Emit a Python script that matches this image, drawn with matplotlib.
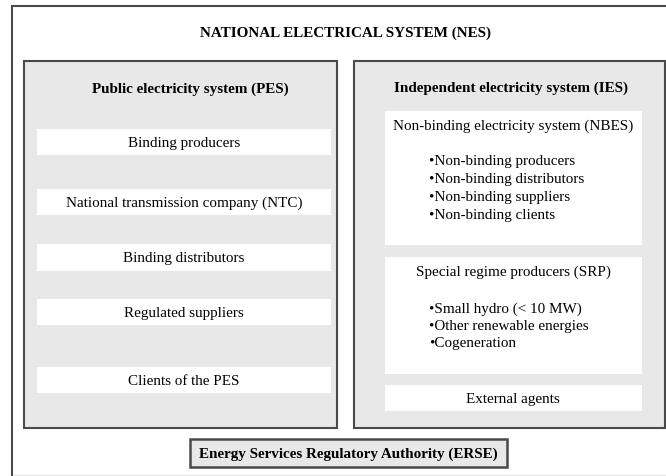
import matplotlib
matplotlib.use("Agg")
import matplotlib.pyplot as plt
from matplotlib.patches import Rectangle

plt.rcParams['font.family'] = ['Liberation Serif', 'DejaVu Serif']

title = "NATIONAL ELECTRICAL SYSTEM (NES)"
pes_title = "Public electricity system (PES)"
pes_items = ["Binding producers", "National transmission company (NTC)",
             "Binding distributors", "Regulated suppliers", "Clients of the PES"]
ies_title = "Independent electricity system (IES)"
nbes_title = "Non-binding electricity system (NBES)"
nbes_items = ["Non-binding producers", "Non-binding distributors",
              "Non-binding suppliers", "Non-binding clients"]
srp_title = "Special regime producers (SRP)"
srp_items = ["Small hydro (< 10 MW)", "Other renewable energies", "Cogeneration"]
external = "External agents"
regulator = "Energy Services Regulatory Authority (ERSE)"

# layout in pixel coords (top-left origin)
pes_rows = [(130, 156), (190, 216), (245, 272), (300, 326), (368, 394)]

W, H = 666, 477
fig = plt.figure(figsize=(W / 100, H / 100), dpi=100)
ax = fig.add_axes([0, 0, 1, 1])
ax.set_xlim(0, W)
ax.set_ylim(H, 0)
ax.axis('off')

edge = '#4a4a4a'
gray = '#e8e8e8'
fs = 10.9


def box(x0, y0, x1, y1, fc, ec='none', lw=1.4):
    ax.add_patch(Rectangle((x0, y0), x1 - x0, y1 - y0, facecolor=fc,
                           edgecolor=ec, linewidth=lw))


# outer NES frame (runs off the right and bottom of the picture)
box(12, 7, 675, 485, 'white', edge, 1.5)
ax.plot([14, 666], [476, 476], color='#e6e6e6', lw=0.8)
ax.text(345, 33, title, ha='center', va='center', fontsize=fs, fontweight='bold')

# PES
box(24, 62, 337, 429, gray, edge, 1.5)
ax.text(190, 89, pes_title, ha='center', va='center', fontsize=fs, fontweight='bold')
for label, (y0, y1) in zip(pes_items, pes_rows):
    box(37, y0, 331, y1, 'white')
    ax.text(184, (y0 + y1) / 2 + 0.5, label, ha='center', va='center', fontsize=fs)

# IES
box(354, 62, 665, 429, gray, edge, 1.5)
ax.text(511, 88, ies_title, ha='center', va='center', fontsize=fs, fontweight='bold')

box(385, 112, 642, 246, 'white')
ax.text(513, 126, nbes_title, ha='center', va='center', fontsize=fs)
for i, item in enumerate(nbes_items):
    ax.text(429, 162 + i * 17.7, "\u2022" + item, ha='left', va='center', fontsize=fs)

box(385, 258, 642, 375, 'white')
ax.text(513, 272, srp_title, ha='center', va='center', fontsize=fs)
for i, item in enumerate(srp_items):
    ax.text(429, 309 + i * 17.3, "\u2022" + item, ha='left', va='center', fontsize=fs)

box(385, 386, 642, 412, 'white')
ax.text(513, 400, external, ha='center', va='center', fontsize=fs)

# ERSE
box(190, 440, 507, 468, gray, edge, 1.8)
ax.text(348, 454, regulator, ha='center', va='center', fontsize=fs, fontweight='bold')

fig.savefig("out.png", dpi=100)
